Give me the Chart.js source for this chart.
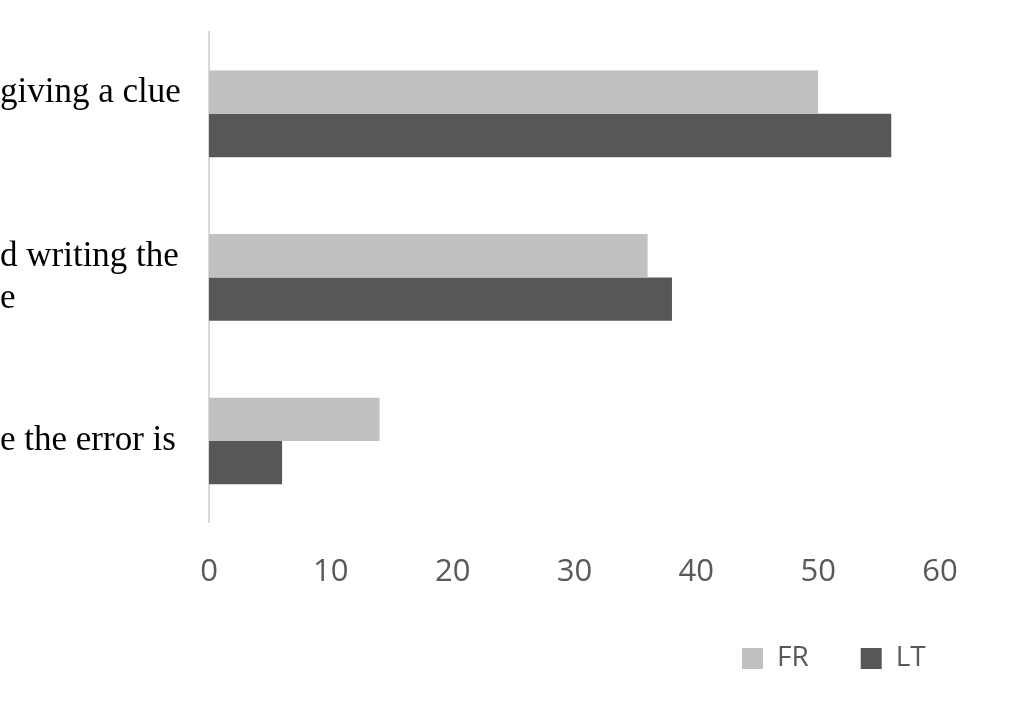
<!DOCTYPE html>
<html>
<head>
<meta charset="utf-8">
<script src="https://cdn.jsdelivr.net/npm/chart.js@4/dist/chart.umd.min.js"></script>
<style>
  html, body { margin: 0; padding: 0; background: #ffffff; }
  #wrap { position: relative; width: 1030px; height: 715px; }
</style>
</head>
<body>
<div id="wrap"><canvas id="c" width="1030" height="715"></canvas></div>
<script>
const categories = [["giving a clue", ""], ["d writing the", "e"], "e the error is"];
const seriesNames = ["FR", "LT"];
const frValues = [50, 36, 14];
const ltValues = [56, 38, 6];
const xTickValues = [0, 10, 20, 30, 40, 50, 60];

const legendShift = {
  id: 'legendShift',
  afterLayout(chart) {
    const l = chart.legend;
    if (!l) return;
    const w = l.right - l.left;
    const h = l.bottom - l.top;
    l.left = 690; l.right = 690 + w;
    l.top = 592.5; l.bottom = 592.5 + h;
  }
};

new Chart(document.getElementById('c'), {
  type: 'bar',
  data: {
    labels: categories,
    datasets: [
      { label: seriesNames[0], data: frValues, backgroundColor: '#c0c0c0', borderWidth: 0 },
      { label: seriesNames[1], data: ltValues, backgroundColor: '#575757', borderWidth: 0 }
    ]
  },
  options: {
    indexAxis: 'y',
    responsive: false,
    animation: false,
    categoryPercentage: 0.53,
    barPercentage: 1.0,
    layout: { padding: { top: 32, right: 90, bottom: 3, left: 0 } },
    scales: {
      x: {
        min: 0, max: 60,
        afterBuildTicks(scale) { scale.ticks = xTickValues.map(v => ({ value: v })); },
        grid: { display: false, drawTicks: false },
        border: { display: false },
        ticks: { color: '#595959', padding: 31, font: { family: 'Open Sans', size: 31 } }
      },
      y: {
        afterFit(scale) { scale.width = 209; scale.paddingTop = 0; scale.paddingBottom = 0; },
        grid: { display: false, drawTicks: false },
        border: { display: true, color: '#d9d9d9', width: 2 },
        ticks: { color: '#000000', padding: 30, crossAlign: 'far', font: { family: 'Liberation Serif', size: 35 } }
      }
    },
    plugins: {
      tooltip: { enabled: false },
      legend: {
        position: 'bottom',
        align: 'start',
        labels: {
          color: '#595959',
          boxWidth: 21,
          boxHeight: 21,
          padding: 52,
          font: { family: 'Open Sans', size: 28 }
        }
      }
    }
  },
  plugins: [legendShift]
});
</script>
</body>
</html>
